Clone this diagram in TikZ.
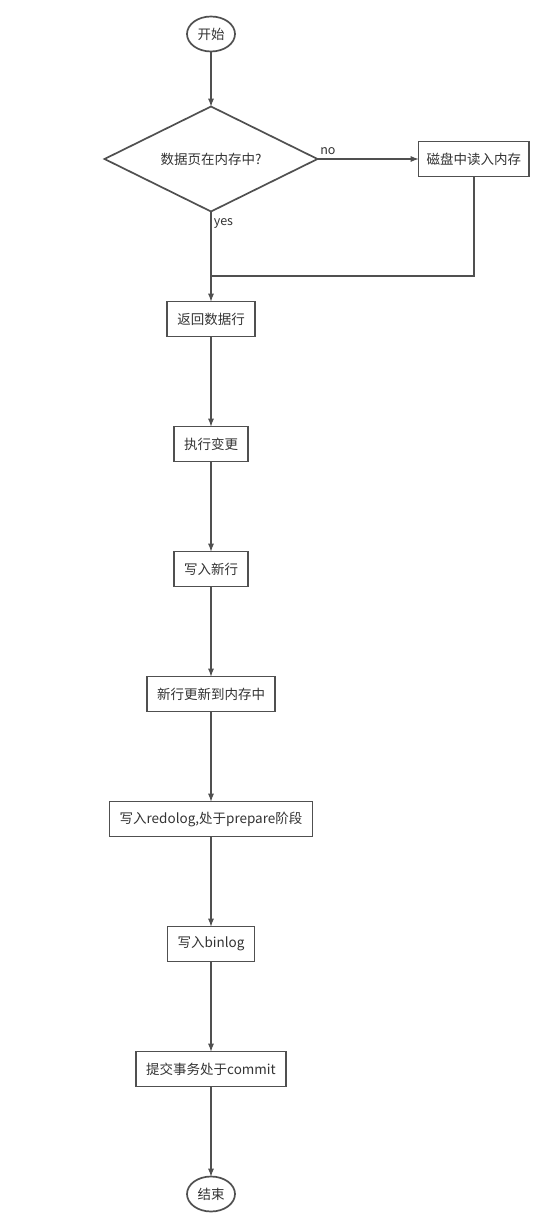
\documentclass[tikz,border=0pt]{standalone}
\usepackage{fontspec}
\setmainfont{Noto Sans CJK SC}
\usetikzlibrary{positioning,shapes.geometric,arrows}
\definecolor{linegray}{HTML}{505050}
\definecolor{textgray}{HTML}{333333}
\tikzset{
	basic/.style    = {draw=linegray, line width=1.7pt, text=textgray,
		font=\fontsize{13.5}{16}\selectfont, outer sep=0pt},
	term/.style     = {basic, ellipse, minimum width=48pt, minimum height=35pt,
		inner sep=1pt},
	decision/.style = {basic, diamond, aspect=2, minimum width=213pt,
		minimum height=105pt, inner sep=1pt},
	process/.style  = {basic, rectangle, minimum height=35pt, inner xsep=10pt,
		inner ysep=0pt},
	answer/.style   = {text=textgray, font=\fontsize{12.5}{14}\selectfont, inner sep=2pt}
}

\begin{document}
\begin{tikzpicture}[
		node distance=90pt,
		flow/.style={->,draw=linegray,line width=1.7pt},
		>=latex]
		\useasboundingbox (0,0) rectangle (556pt,-1230pt);
		
		% start and the question on the page
		\node[term] (start) at (211pt,-34pt) {开始};
		\node[decision, below=55pt of start] (q) {数据页在内存中?};
		\node[process, right=101pt of q, inner xsep=8pt] (disk) {磁盘中读入内存};
		% the main line of steps
		\node[process, below=of q] (s1) {返回数据行};
		\node[process, below=of s1] (s2) {执行变更};
		\node[process, below=of s2] (s3) {写入新行};
		\node[process, below=of s3] (s4) {新行更新到内存中};
		\node[process, below=of s4] (s5) {写入redolog,处于prepare阶段};
		\node[process, below=of s5] (s6) {写入binlog};
		\node[process, below=of s6] (s7) {提交事务处于commit};
		\node[term, below=of s7] (stop) {结束};
		\coordinate (mergey) at (0,-276pt);
		\coordinate (merge) at (s1.north |- mergey);
		
		\draw[flow] (start) -- (q);
		\draw[flow] (q.east) -- node[answer, pos=0, above right, yshift=1pt] {no} (disk.west);
		\draw[flow] (q.south) -- node[answer, pos=0, below right, yshift=-4pt] {yes} (s1.north);
		\draw[draw=linegray, line width=1.7pt] (disk.south) |- (merge);
		\foreach \a/\b in {s1/s2,s2/s3,s3/s4,s4/s5,s5/s6,s6/s7,s7/stop}
		\draw[flow] (\a) -- (\b);
	\end{tikzpicture}
\end{document}
